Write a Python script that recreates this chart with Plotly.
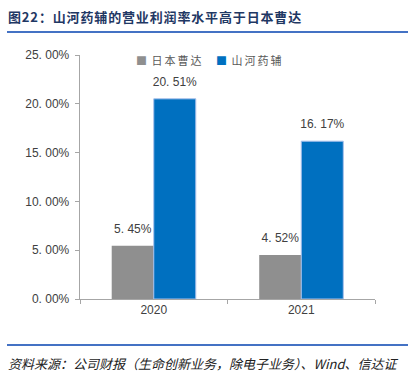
import plotly.graph_objects as go

years = ["2020", "2021"]
nippon_soda = [5.45, 4.52]
shanhe = [20.51, 16.17]
series_names = ["日本曹达", "山河药辅"]
y_ticks = [0, 5, 10, 15, 20, 25]
y_tick_labels = ["0. 00%", "5. 00%", "10. 00%", "15. 00%", "20. 00%", "25. 00%"]

gray = "#8f8f8f"
blue = "#0070c0"
txt = "#404040"

def fmt(v):
    s = f"{v:.2f}%"
    return s.replace(".", ". ")

fig = go.Figure()
fig.add_trace(go.Bar(
    x=years, y=nippon_soda, name=series_names[0], offsetgroup="a",
    marker=dict(color=gray, line=dict(width=0)),
))
fig.add_trace(go.Bar(
    x=years, y=shanhe, name=series_names[1], offsetgroup="b",
    marker=dict(color=blue, line=dict(width=1, color="#a9c1ec")),
))
# value labels above bars (text-only scatter aligned to bar groups)
for vals, grp in [(nippon_soda, "a"), (shanhe, "b")]:
    fig.add_trace(go.Scatter(
        x=years, y=vals, mode="markers+text", offsetgroup=grp,
        marker=dict(size=14, opacity=0), hoverinfo="skip",
        text=[fmt(v) for v in vals], textposition="top center",
        textfont=dict(size=12, color=txt, family="Arial, Liberation Sans"),
        cliponaxis=False, showlegend=False,
    ))

fig.update_layout(
    width=408, height=375,
    margin=dict(l=80, r=33, t=55, b=76),
    paper_bgcolor="white", plot_bgcolor="white",
    barmode="group", bargap=0.43, bargroupgap=0, scattermode="group",
    showlegend=False,
    font=dict(family="Arial, Liberation Sans", color=txt, size=12),
)
fig.update_yaxes(
    range=[0, 25], tickvals=y_ticks, ticktext=[t + " " for t in y_tick_labels],
    showgrid=False, zeroline=False,
    showline=True, linecolor="#a6a6a6", linewidth=1,
    ticks="outside", ticklen=4, tickcolor="#a6a6a6",
    tickfont=dict(size=12, color=txt),
)
fig.update_xaxes(
    type="category",
    showgrid=False, showline=True, linecolor="#a6a6a6", linewidth=1,
    ticks="outside", tickson="boundaries", ticklen=4, tickcolor="#a6a6a6",
    tickfont=dict(size=12, color=txt),
)

# legend built as annotations
legend_x = [(134 - 80) / 295, (214 - 80) / 295]
for name, col, lx in zip(series_names, [gray, blue], legend_x):
    fig.add_annotation(
        xref="paper", yref="paper", x=lx, y=1 - (60 - 55) / 244,
        xanchor="left", yanchor="middle", showarrow=False,
        text=f"<span style='color:{col}'>■</span><span style='letter-spacing:2px'> {name}</span>",
        font=dict(size=11, color="#595959", family="Noto Sans CJK SC"),
    )

# title
fig.add_annotation(
    xref="paper", yref="paper", x=(6 - 80) / 295, y=1 + (55 - 16) / 244,
    xanchor="left", yanchor="middle", showarrow=False,
    text="<b><span style='letter-spacing:0.85px'>图22：山河药辅的营业利润率水平高于日本曹达</span></b>",
    font=dict(size=13, color="#1f3864", family="Noto Sans CJK SC"),
)
fig.add_shape(type="line", xref="paper", yref="paper",
              x0=(7 - 80) / 295, x1=(408 - 80) / 295,
              y0=1 + (55 - 32) / 244, y1=1 + (55 - 32) / 244,
              line=dict(color="#4472c4", width=2))
fig.add_shape(type="line", xref="paper", yref="paper",
              x0=(7 - 80) / 295, x1=(408 - 80) / 295,
              y0=-(345 - 299) / 244, y1=-(345 - 299) / 244,
              line=dict(color="#4472c4", width=2))
fig.add_annotation(
    xref="paper", yref="paper", x=(6 - 80) / 295, y=-(363 - 299) / 244,
    xanchor="left", yanchor="middle", showarrow=False,
    text="资料来源：公司财报（生命创新业务，除电子业务）、Wind、信达证",
    font=dict(size=13, color="#222222", family="Noto Sans CJK SC", style="italic"),
)

fig.write_html("out.html", config={"displayModeBar": False},
               post_script="document.body.style.margin='0';document.body.style.overflow='hidden';")
